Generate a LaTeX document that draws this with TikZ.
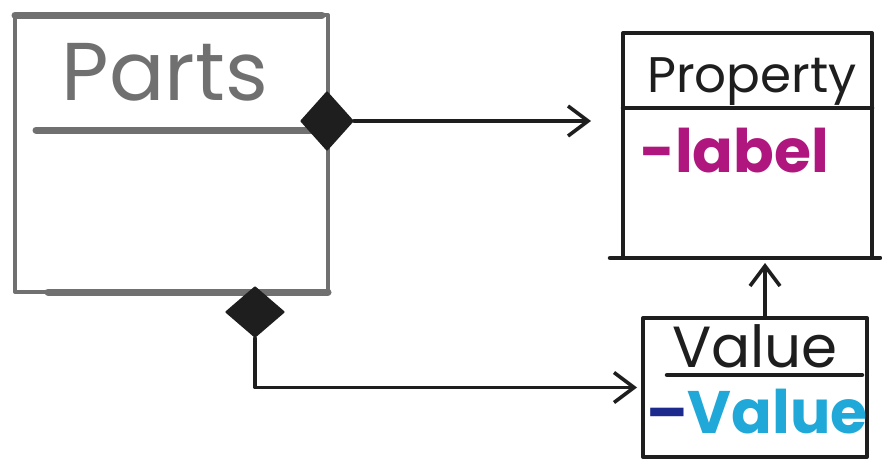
\documentclass[tikz,border=0pt]{standalone}
\usepackage{fontspec}
\setmainfont{Poppins}
\usetikzlibrary{shapes.geometric,arrows.meta}
\definecolor{pencil}{HTML}{707070}
\definecolor{ink}{HTML}{1E1E1E}
\definecolor{attrpink}{HTML}{B0177E}
\definecolor{attrcyan}{HTML}{1FA8D8}
\definecolor{attrblue}{HTML}{1B2A8C}

\begin{document}
\begin{tikzpicture}[
  x=1pt,
  y=-1pt,
  line cap=round,
  line join=round,
  classbox/.style={draw=ink,line width=4pt,inner sep=0pt},
  divider/.style={draw=ink,line width=4.5pt},
  composite/.style={diamond,draw=ink,fill=ink,line width=2pt,inner sep=0pt},
  assoc/.style={draw=ink,line width=3.6pt,
    -{Straight Barb[length=20pt,width=30pt]}},
  classname/.style={font=\fontsize{50}{50}\selectfont,text=ink,
    inner sep=0pt,anchor=base},
  attr/.style={font=\fontsize{60}{60}\selectfont\bfseries,inner sep=0pt,
    anchor=base west}
]
  \useasboundingbox (0,0) rectangle (882,466);

  % Parts, drawn in pencil.
  \node[classbox,draw=pencil,minimum width=313pt,minimum height=277pt]
    (parts) at (171.5,153.5) {};
  \draw[divider,draw=pencil,line width=7pt] (15,15) -- (322,15);
  \draw[divider,draw=pencil,line width=7pt] (36,130) -- (318,130);
  \draw[divider,draw=pencil,line width=7pt] (48,292) -- (328,292);
  \node[classname,text=pencil,font=\fontsize{82}{82}\selectfont]
    (partsname) at (165,100) {Parts};

  % Property with its attribute.
  \node[classbox,minimum width=249pt,minimum height=225pt]
    (prop) at (747.5,145.5) {};
  \draw[divider] (623,108) -- (872,108);
  \draw[divider] (610,258) -- (880,258);
  \node[classname] (propname) at (752,92) {Property};
  \node[attr,text=attrpink] (proplabel) at (640,172) {-label};

  % Value with its attribute.
  \node[classbox,minimum width=224pt,minimum height=139pt]
    (val) at (755,387.5) {};
  \draw[divider] (667,375) -- (862,375);
  \node[classname,font=\fontsize{58}{58}\selectfont]
    (valname) at (755,367) {Value};
  \node[attr,text=attrcyan] (valattr) at (646,433)
    {{\color{attrblue}–}Value};

  % Composition diamonds and connectors.
  \node[composite,minimum width=52pt,minimum height=58pt]
    (dtop) at (327,121) {};
  \node[composite,minimum width=58pt,minimum height=50pt]
    (dbot) at (255,312) {};
  \draw[assoc,shorten >=30pt] (dtop.east) -- (dtop.east -| prop.west);
  \draw[assoc,shorten >=4pt] (dbot.south) |- (val.west);
  \draw[assoc,shorten >=3pt]
    ([xshift=10pt]val.north) -- ([xshift=10pt]val.north |- prop.south);
\end{tikzpicture}
\end{document}
